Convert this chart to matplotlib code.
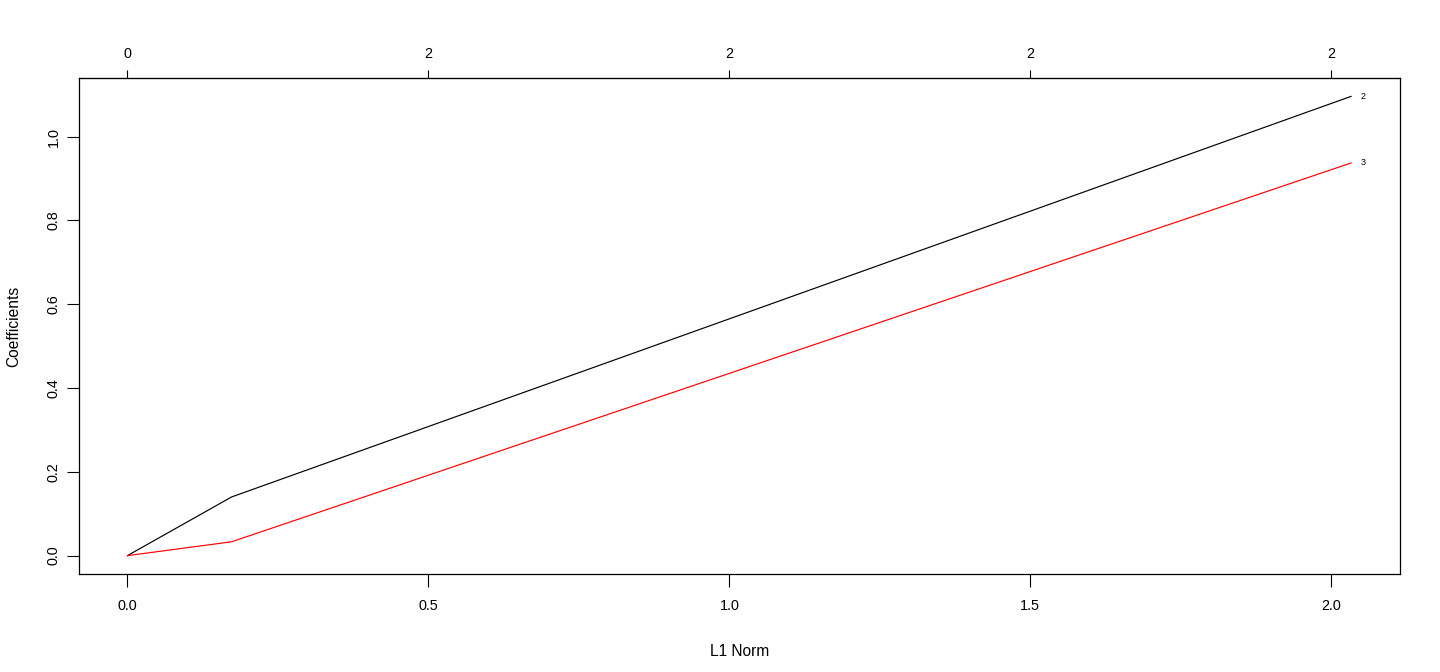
import matplotlib
matplotlib.use("Agg")
import matplotlib.pyplot as plt

l1_norm = [0.0, 0.173, 2.033]
coef_2 = [0.0, 0.140, 1.096]
coef_3 = [0.0, 0.033, 0.937]
series_labels = ["2", "3"]
series_colors = ["black", "red"]
x_ticks = [0.0, 0.5, 1.0, 1.5, 2.0]
x_tick_labels = ["0.0", "0.5", "1.0", "1.5", "2.0"]
top_tick_labels = ["0", "2", "2", "2", "2"]
y_ticks = [0.0, 0.2, 0.4, 0.6, 0.8, 1.0]
y_tick_labels = ["0.0", "0.2", "0.4", "0.6", "0.8", "1.0"]

plt.rcParams['font.family'] = ['Liberation Sans', 'DejaVu Sans']

W, H = 1440, 672
fig = plt.figure(figsize=(W/100, H/100), dpi=100)
ax = fig.add_axes([78.5/W, (H-574)/H, (1400-78.5)/W, (574-78)/H])

for ys, c, lab in zip([coef_2, coef_3], series_colors, series_labels):
    ax.plot(l1_norm, ys, color=c, lw=0.85)
    ax.text(l1_norm[-1] + 0.016, ys[-1], lab, fontsize=6.5, ha='left', va='center')

xmax = l1_norm[-1]
ymax = max(coef_2 + coef_3)
ax.set_xlim(-0.04*xmax, xmax*1.04)
ax.set_ylim(-0.04*ymax, ymax*1.04)

ax.set_xticks(x_ticks)
ax.set_xticklabels(x_tick_labels, fontsize=10.4)
ax.set_yticks(y_ticks)
ax.set_yticklabels(y_tick_labels, fontsize=10.4, rotation=90, va='center')
ax.tick_params(axis='x', direction='out', length=9, width=0.8, pad=9)
ax.tick_params(axis='y', direction='out', length=9, width=0.8, pad=4)

top = ax.secondary_xaxis('top')
top.set_xticks(x_ticks)
top.set_xticklabels(top_tick_labels, fontsize=10.4)
top.tick_params(direction='out', length=5.5, width=0.8, pad=6.5)

for s in ax.spines.values():
    s.set_linewidth(0.9)

ax.set_xlabel("L1 Norm", fontsize=11.2, labelpad=22)
ax.set_ylabel("Coefficients", fontsize=11.2, labelpad=18)

fig.savefig("out.png", dpi=100)
